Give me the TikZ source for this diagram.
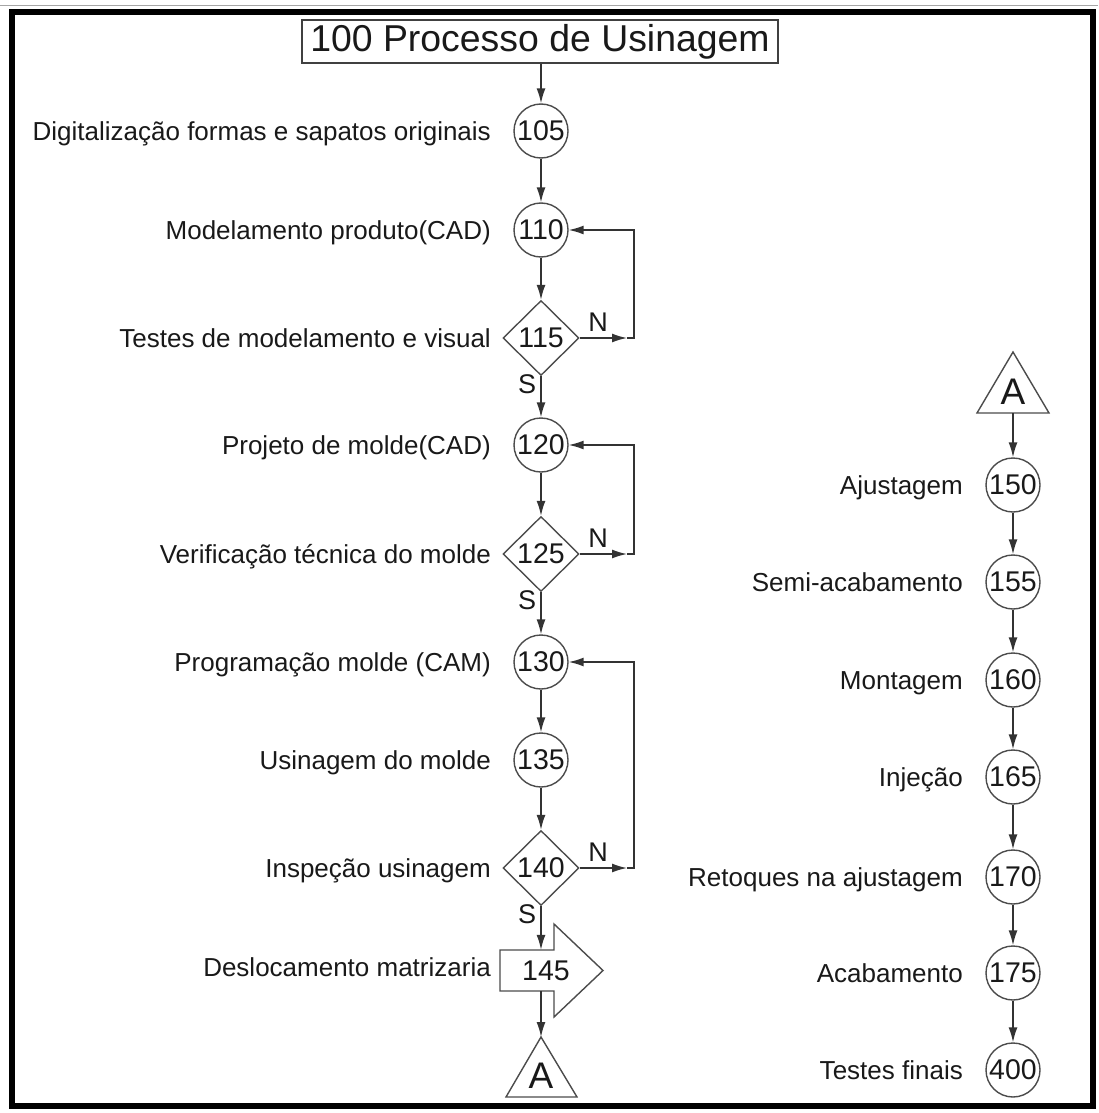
\documentclass[tikz,border=0pt]{standalone}
\usepackage{fontspec}
\setmainfont{Liberation Sans}
\usetikzlibrary{arrows.meta,shapes.geometric}
\begin{document}
\begin{tikzpicture}[x=1pt,y=-1pt,
  conn/.style={draw=black!80,line width=1.5pt},
  arr/.style={conn,-{Latex[length=15pt,width=9pt]}},
  outline/.style={draw=black!70,line width=1.4pt},
  stepcircle/.style={outline,circle,minimum size=54pt,inner sep=0pt,text=black!90,
    font=\fontsize{28.5}{28.5}\selectfont},
  decision/.style={outline,diamond,minimum width=76pt,minimum height=75pt,inner sep=0pt,
    text=black!90,font=\fontsize{28.5}{28.5}\selectfont},
  lbl/.style={inner sep=0pt,anchor=base east,text=black!90,font=\fontsize{26}{26}\selectfont},
  yn/.style={inner sep=0pt,text=black!90,font=\fontsize{27}{27}\selectfont},
  connector/.style={inner sep=0pt,text=black!90,font=\fontsize{37}{37}\selectfont},
]
\useasboundingbox (0,0) rectangle (1098,1113);
\fill[white] (0,0) rectangle (1098,1113);

% page frame
\draw[black!35,line width=0.8pt] (0,5) -- (1098,5);
\draw[line width=5.5pt] (12,12) rectangle (1093,1106);

% title
\node[outline,draw=black!75,line width=1.5pt,minimum width=476pt,minimum height=43pt,inner sep=0pt,
  text=black!90,font=\fontsize{37.4}{38}\selectfont] (title) at (540,41.5) {100 Processo de Usinagem};

% main column
\node[stepcircle] (c105) at (541,131) {105};
\node[stepcircle] (c110) at (541,230) {110};
\node[decision]   (d115) at (541,338) {115};
\node[stepcircle] (c120) at (541,445) {120};
\node[decision]   (d125) at (541,554) {125};
\node[stepcircle] (c130) at (541,662) {130};
\node[stepcircle] (c135) at (541,760) {135};
\node[decision]   (d140) at (541,868) {140};

% 145: block arrow
\draw[outline] (500,950) -- (554,950) -- (554,924) -- (603,970.5) -- (554,1017) -- (554,991) -- (500,991) -- cycle;
\node[minimum width=54pt,minimum height=41pt,inner sep=0pt] (a145) at (527,970.5) {};
\node[inner sep=0pt,text=black!90,font=\fontsize{28.5}{28.5}\selectfont] (t145) at (546,971) {145};

% off-page connector at the bottom
\draw[outline] (541,1037) -- (577,1097) -- (506,1097) -- cycle;
\coordinate (A1) at (541,1037);
\node[connector] (A1txt) at (541,1076) {A};

% labels of the main column
\node[lbl] (l105) at (491,140) {Digitalização formas e sapatos originais};
\node[lbl] (l110) at (491,239) {Modelamento produto(CAD)};
\node[lbl] (l115) at (491,347) {Testes de modelamento e visual};
\node[lbl] (l120) at (491,454) {Projeto de molde(CAD)};
\node[lbl] (l125) at (491,563) {Verificação técnica do molde};
\node[lbl] (l130) at (491,671) {Programação molde (CAM)};
\node[lbl] (l135) at (491,769) {Usinagem do molde};
\node[lbl] (l140) at (491,877) {Inspeção usinagem};
\node[lbl] (l145) at (491,976) {Deslocamento matrizaria};

% S / N answers
\node[yn] (s115) at (527,384) {S};
\node[yn] (n115) at (598,322) {N};
\node[yn] (s125) at (527,600) {S};
\node[yn] (n125) at (598,538) {N};
\node[yn] (s140) at (527,914) {S};
\node[yn] (n140) at (598,852) {N};

% main flow
\draw[arr] (title.south -| c105) -- (c105.north);
\draw[arr] (c105) -- (c110);
\draw[arr] (c110) -- (d115.north);
\draw[arr] (d115.south) -- (c120.north);
\draw[arr] (c120) -- (d125.north);
\draw[arr] (d125.south) -- (c130.north);
\draw[arr] (c130) -- (c135);
\draw[arr] (c135) -- (d140.north);
\draw[arr] (d140.south) -- (d140.south |- a145.north);
\draw[arr] (d140.south |- a145.south) -- (A1);

% return loops
\coordinate (k115) at (634,338);
\coordinate (k125) at (634,554);
\coordinate (k140) at (634,868);
\draw[arr] (d115.east) -- ([xshift=-7pt]k115);
\draw[arr] ([xshift=-7pt]k115) -- (k115) |- (c110.east);
\draw[arr] (d125.east) -- ([xshift=-7pt]k125);
\draw[arr] ([xshift=-7pt]k125) -- (k125) |- (c120.east);
\draw[arr] (d140.east) -- ([xshift=-7pt]k140);
\draw[arr] ([xshift=-7pt]k140) -- (k140) |- (c130.east);

% second column
\draw[outline] (1013,352) -- (1049,413) -- (977,413) -- cycle;
\coordinate (A2) at (1013,413);
\node[connector] (A2txt) at (1013,392) {A};

\node[stepcircle] (c150) at (1013,485) {150};
\node[stepcircle] (c155) at (1013,582) {155};
\node[stepcircle] (c160) at (1013,680) {160};
\node[stepcircle] (c165) at (1013,777) {165};
\node[stepcircle] (c170) at (1013,877) {170};
\node[stepcircle] (c175) at (1013,973) {175};
\node[stepcircle] (c400) at (1013,1070) {400};

\node[lbl] (l150) at (963,494) {Ajustagem};
\node[lbl] (l155) at (963,591) {Semi-acabamento};
\node[lbl] (l160) at (963,689) {Montagem};
\node[lbl] (l165) at (963,786) {Injeção};
\node[lbl] (l170) at (963,886) {Retoques na ajustagem};
\node[lbl] (l175) at (963,982) {Acabamento};
\node[lbl] (l400) at (963,1079) {Testes finais};

\draw[arr] (A2) -- (c150.north);
\draw[arr] (c150) -- (c155);
\draw[arr] (c155) -- (c160);
\draw[arr] (c160) -- (c165);
\draw[arr] (c165) -- (c170);
\draw[arr] (c170) -- (c175);
\draw[arr] (c175) -- (c400);
\end{tikzpicture}
\end{document}
